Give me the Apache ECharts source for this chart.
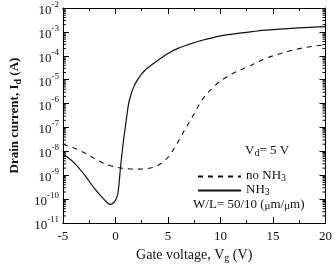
<!DOCTYPE html>
<html>
<head>
<meta charset="utf-8">
<script src="https://cdn.jsdelivr.net/npm/echarts@6/dist/echarts.min.js"></script>
<style>
  html, body { margin: 0; padding: 0; background: #fff; }
  #chart { width: 335px; height: 268px; }
</style>
</head>
<body>
<div id="chart"></div>
<script>
// gate voltage (V) and log10 of drain current (A)
const vgNoNH3 = [-5, -4, -3, -2, -1, 0, 1, 2, 3, 4, 5, 5.5, 6, 6.5, 7, 7.5, 8, 8.5, 9, 10, 11, 12, 13, 14, 15, 16, 17, 18, 19, 20]
const logIdNoNH3 = [-7.7, -7.85, -8.05, -8.3, -8.52, -8.65, -8.72, -8.74, -8.72, -8.6, -8.25, -7.94, -7.57, -7.18, -6.8, -6.42, -6.02, -5.7, -5.45, -5.05, -4.78, -4.57, -4.38, -4.17, -4.0, -3.87, -3.75, -3.66, -3.59, -3.54]

const vgNH3 = [-5, -4, -3, -2, -1, -0.5, 0, 0.25, 0.5, 0.75, 1, 1.25, 1.5, 1.75, 2, 2.5, 3, 4, 5, 6, 7, 8, 9, 10, 11, 12, 13, 14, 16, 18, 20]
const logIdNH3 = [-8.1, -8.45, -8.95, -9.55, -10.05, -10.22, -10.05, -9.72, -8.6, -7.62, -6.8, -6.02, -5.6, -5.3, -5.08, -4.76, -4.53, -4.2, -3.9, -3.68, -3.52, -3.38, -3.27, -3.17, -3.1, -3.04, -2.99, -2.94, -2.87, -2.82, -2.78]

const xTicks = [-5, 0, 5, 10, 15, 20]
const yDecades = [-11, -10, -9, -8, -7, -6, -5, -4, -3, -2]

const serif = '"Liberation Serif", "DejaVu Serif", serif'
const ink = '#111'

// log-style minor ticks between decades
const minorTicks = []
for (let i = 0; i < yDecades.length - 1; i++) {
    for (let k = 2; k <= 9; k++) {
        minorTicks.push([xTicks[0], yDecades[i] + Math.log10(k)])
    }
}

const zip = (xs, ys) => xs.map((x, i) => [x, ys[i]])

const chart = echarts.init(document.getElementById('chart'))

const axisLine = { onZero: false, lineStyle: { color: '#000', width: 1 } }
const majorTick = { inside: true, length: 6, lineStyle: { color: '#000' } }
const minorTick = { show: true, splitNumber: 2, length: 3, lineStyle: { color: '#000' } }

const txt = (size, extra) => Object.assign({ fontFamily: serif, fontSize: size, color: ink, lineHeight: 16, verticalAlign: 'top' }, extra || {})

chart.setOption({
    animation: false,
    grid: { left: 55, right: 7, top: 8, bottom: 39 },
    legend: {
        data: ['no NH3', 'NH3'],
        orient: 'vertical',
        left: 192,
        top: 164,
        itemWidth: 43,
        itemHeight: 10,
        itemGap: 0,
        selectedMode: false,
        itemStyle: { opacity: 0 },
        formatter: n => n === 'NH3' ? '{t|NH}{sub|3}' : '{t|no NH}{sub|3}',
        textStyle: {
            rich: {
                t: txt(13, { lineHeight: 15 }),
                sub: txt(10, { lineHeight: 15, padding: [4, 0, 0, 0] })
            }
        }
    },
    xAxis: [{
        type: 'value',
        min: xTicks[0],
        max: xTicks[xTicks.length - 1],
        interval: 5,
        name: '{t|Gate voltage, V}{sub|g}{t| (V)}',
        nameLocation: 'middle',
        nameGap: 22,
        nameTextStyle: {
            rich: {
                t: txt(14),
                sub: txt(10, { padding: [5, 0, 0, 0] })
            }
        },
        axisLine,
        axisTick: majorTick,
        minorTick,
        splitLine: { show: false },
        axisLabel: { fontFamily: serif, fontSize: 13, color: ink, margin: 7 }
    }, {
        type: 'value',
        position: 'top',
        min: xTicks[0],
        max: xTicks[xTicks.length - 1],
        interval: 5,
        axisLine,
        axisTick: majorTick,
        minorTick,
        splitLine: { show: false },
        axisLabel: { show: false }
    }],
    yAxis: [{
        type: 'value',
        min: yDecades[0],
        max: yDecades[yDecades.length - 1],
        interval: 1,
        name: '{t|Drain current, I}{sub|d}{t| (A)}',
        nameLocation: 'middle',
        nameGap: 37,
        nameRotate: 90,
        nameTextStyle: {
            rich: {
                t: txt(13, { fontWeight: 'bold' }),
                sub: txt(10, { fontWeight: 'bold', padding: [5, 0, 0, 0] })
            }
        },
        axisLine,
        axisTick: majorTick,
        splitLine: { show: false },
        axisLabel: {
            margin: 4,
            formatter: v => '{b|10}{s|' + v + '}',
            rich: {
                b: txt(13, { padding: [4, 0, 0, 0] }),
                s: txt(9)
            }
        }
    }, {
        type: 'value',
        position: 'right',
        min: yDecades[0],
        max: yDecades[yDecades.length - 1],
        interval: 1,
        axisLine,
        axisTick: majorTick,
        splitLine: { show: false },
        axisLabel: { show: false }
    }],
    graphic: [{
        type: 'text',
        left: 245,
        top: 144,
        style: {
            text: '{t|V}{sub|d}{t|= 5 V}',
            rich: {
                t: { fontFamily: serif, fontSize: 13, fill: ink, lineHeight: 15, verticalAlign: 'top' },
                sub: { fontFamily: serif, fontSize: 10, fill: ink, lineHeight: 15, verticalAlign: 'top', padding: [4, 0, 0, 0] }
            }
        }
    }, {
        type: 'text',
        left: 193,
        top: 198,
        style: {
            text: '{t|W/L= 50/10 (}{mu|μ}{t|m/}{mu|μ}{t|m)}',
            rich: {
                t: { fontFamily: serif, fontSize: 13, fill: ink, lineHeight: 15, verticalAlign: 'top' },
                mu: { fontFamily: serif, fontSize: 11, fill: ink, lineHeight: 15, verticalAlign: 'top', padding: [3, 0, 0, 0] }
            }
        }
    }],
    series: [{
        name: 'no NH3',
        type: 'line',
        data: zip(vgNoNH3, logIdNoNH3),
        smooth: 0.3,
        symbol: 'none',
        itemStyle: { color: '#111' },
        lineStyle: { color: '#111', width: 1.1, type: [5, 5] }
    }, {
        name: 'NH3',
        type: 'line',
        data: zip(vgNH3, logIdNH3),
        smooth: 0.3,
        symbol: 'none',
        itemStyle: { color: '#111' },
        lineStyle: { color: '#111', width: 1.2 }
    }, {
        // minor log ticks on left and right edges
        type: 'custom',
        silent: true,
        data: minorTicks,
        renderItem: (params, api) => {
            const y = api.coord([api.value(0), api.value(1)])[1]
            const cs = params.coordSys
            const l = cs.x, r = cs.x + cs.width
            const style = { stroke: '#000', lineWidth: 1 }
            return {
                type: 'group',
                children: [
                    { type: 'line', shape: { x1: l, y1: y, x2: l + 3, y2: y }, style },
                    { type: 'line', shape: { x1: r - 3, y1: y, x2: r, y2: y }, style }
                ]
            }
        }
    }]
})
</script>
</body>
</html>
